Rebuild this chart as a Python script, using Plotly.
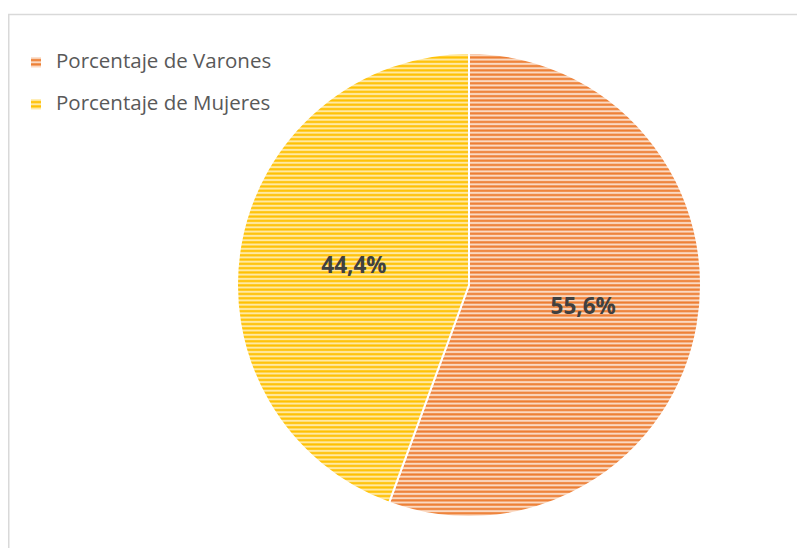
import plotly.graph_objects as go

labels = ["Porcentaje de Varones", "Porcentaje de Mujeres"]
values = [55.6, 44.4]
text_labels = ["55,6%", "44,4%"]
fg_colors = ["#ED7D31", "#FFC000"]
bg_colors = ["#FAD9C2", "#FFE9A3"]

# figure size chosen so that the page (with the browser's 8px body margin) fits 805x556 exactly
W, H = 789, 540

legend_labels = ["<span style='font-size:20.5px'>%s</span><br> " % s for s in labels]

fig = go.Figure(go.Pie(
    labels=legend_labels,
    values=values,
    text=text_labels,
    texttemplate="<b>%{text}</b>",
    textposition="inside",
    insidetextorientation="horizontal",
    textfont=dict(family="Open Sans", size=22.5, color="#404040"),
    sort=False,
    direction="clockwise",
    rotation=0,
    marker=dict(
        colors=fg_colors,
        line=dict(color="white", width=2),
        pattern=dict(shape="-", size=4.3, solidity=0.5, fgcolor=fg_colors, bgcolor=bg_colors, fillmode="replace"),
    ),
    domain=dict(x=[229 / W, 693 / W], y=[1 - 509 / H, 1 - 45 / H]),
    hovertemplate="%{text}<extra></extra>",
))

frame_style = dict(color="#D9D9D9", width=1.5)
fig.update_layout(
    width=W, height=H,
    margin=dict(l=0, r=0, t=0, b=0),
    paper_bgcolor="white",
    showlegend=True,
    legend=dict(
        x=8 / W, y=1 - 38 / H, xanchor="left", yanchor="top",
        font=dict(family="Open Sans", size=15, color="#595959"),
        bgcolor="rgba(0,0,0,0)",
        itemwidth=30,
        valign="top",
    ),
    shapes=[
        dict(type="line", xref="paper", yref="paper",
             x0=0.75 / W, x1=0.75 / W, y0=0, y1=1 - 6.5 / H, line=frame_style, layer="below"),
        dict(type="line", xref="paper", yref="paper",
             x0=0, x1=1, y0=1 - 6.5 / H, y1=1 - 6.5 / H, line=frame_style, layer="below"),
    ],
)

fig.write_html("out.html")
